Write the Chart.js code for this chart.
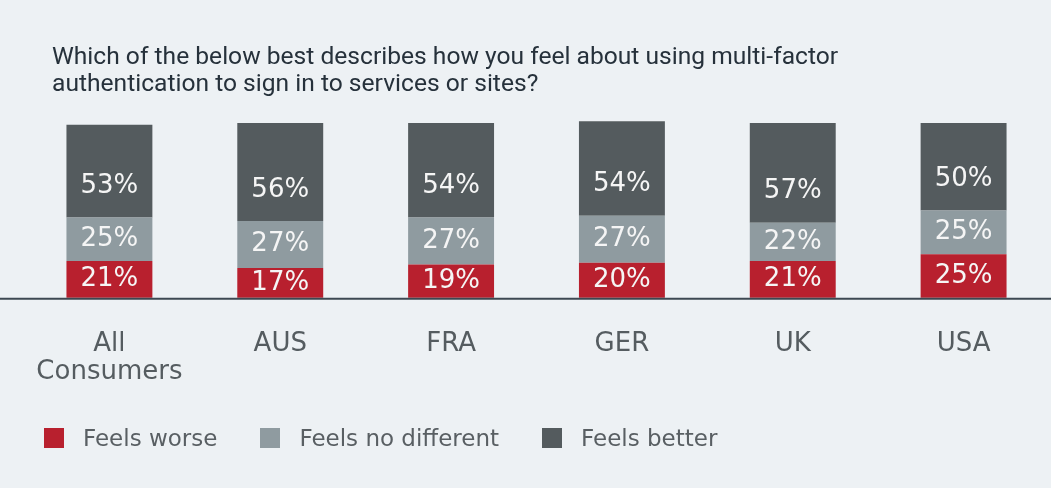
<!DOCTYPE html>
<html>
<head>
<meta charset="utf-8">
<script src="https://cdn.jsdelivr.net/npm/chart.js@4"></script>
<style>
  html, body { margin: 0; padding: 0; background: #edf1f4; }
  #wrap { position: relative; width: 1051px; height: 488px; overflow: hidden; }
  #title { position: absolute; left: 52px; top: 42px; font: 24.6px/27px Roboto, sans-serif; color: #26313b; }
  #legend { position: absolute; left: 44px; top: 428px; display: flex; font: 23px/20px "DejaVu Sans", sans-serif; color: #595f63; }
  #legend .item { display: flex; align-items: center; }
  #legend .box { width: 20px; height: 20px; margin-right: 19px; }
  canvas { position: absolute; left: 0; top: 0; }
</style>
</head>
<body>
<div id="wrap">
  <canvas id="mfa" width="1051" height="488"></canvas>
  <div id="title">Which of the below best describes how you feel about using multi-factor<br>authentication to sign in to services or sites?</div>
  <div id="legend"></div>
</div>
<script>
const categories = [["All", "Consumers"], "AUS", "FRA", "GER", "UK", "USA"]
const seriesNames = ["Feels worse", "Feels no different", "Feels better"]
const feelsWorse = [21, 17, 19, 20, 21, 25]
const feelsNoDifferent = [25, 27, 27, 27, 22, 25]
const feelsBetter = [53, 56, 54, 54, 57, 50]
const colors = ["#b8202e", "#8f9ba0", "#545b5e"]

// white % labels inside each segment, plus the baseline across the full width
const segmentLabels = {
    id: "segmentLabels",
    afterDatasetsDraw(chart) {
        const ctx = chart.ctx
        ctx.save()
        ctx.fillStyle = "#f5f5f5"
        ctx.font = "26px 'DejaVu Sans', sans-serif"
        ctx.textAlign = "center"
        ctx.textBaseline = "middle"
        chart.data.datasets.forEach((ds, i) => {
            chart.getDatasetMeta(i).data.forEach((bar, j) => {
                const p = bar.getProps(["x", "y", "base"], true)
                let y = (p.y + p.base) / 2
                if (i === chart.data.datasets.length - 1) y = p.base - 31
                ctx.fillText(ds.data[j] + "%", p.x, y)
            })
        })
        const yb = chart.scales.y.getPixelForValue(0)
        ctx.strokeStyle = "#3d4852"
        ctx.lineWidth = 2
        ctx.beginPath()
        ctx.moveTo(0, yb + 1)
        ctx.lineTo(chart.width, yb + 1)
        ctx.stroke()
        ctx.restore()
    }
}

const values = [feelsWorse, feelsNoDifferent, feelsBetter]

new Chart(document.getElementById("mfa"), {
    type: "bar",
    data: {
        labels: categories,
        datasets: values.map((v, i) => ({
            label: seriesNames[i],
            data: v,
            backgroundColor: colors[i],
            borderWidth: 0,
            barPercentage: 0.503,
            categoryPercentage: 1,
            clip: false,
        })),
    },
    options: {
        responsive: false,
        animation: false,
        layout: { padding: { top: 123, left: 24, right: 2, bottom: 70 } },
        plugins: { legend: { display: false }, tooltip: { enabled: false } },
        scales: {
            x: {
                stacked: true,
                grid: { display: false, drawTicks: false },
                border: { display: false },
                ticks: {
                    color: "#555c60",
                    padding: 32,
                    font: { family: "'DejaVu Sans', sans-serif", size: 26, lineHeight: 1.08 },
                },
            },
            y: { stacked: true, display: false, min: 0, max: 100 },
        },
    },
    plugins: [segmentLabels],
})

const legend = document.getElementById("legend")
seriesNames.forEach((name, i) => {
    const item = document.createElement("div")
    item.className = "item"
    item.style.marginRight = "43px"
    item.innerHTML = '<span class="box" style="background:' + colors[i] + '"></span>' + name
    legend.appendChild(item)
})
</script>
</body>
</html>
